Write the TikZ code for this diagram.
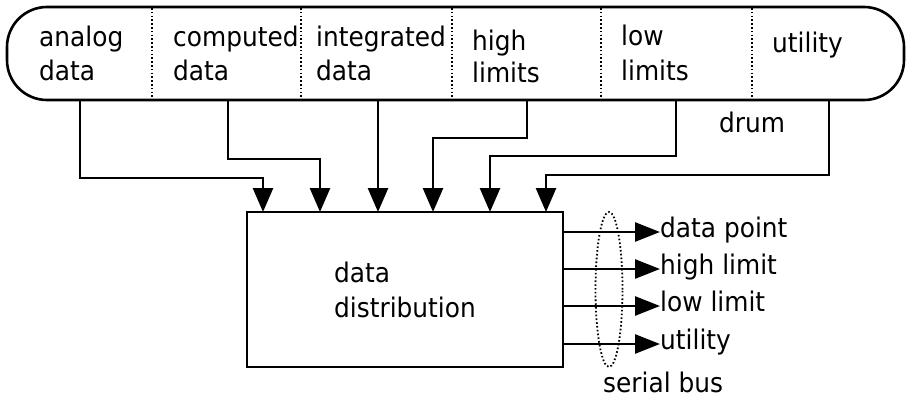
\documentclass[tikz,border=0pt]{standalone}
\usepackage{fontspec}
\setmainfont{DejaVu Sans}[FakeStretch=0.92]
\usetikzlibrary{arrows.meta,shapes.geometric}
\begin{document}
\begin{tikzpicture}[x=1pt,y=-1pt,
  every node/.style={font=\fontsize{27}{35}\selectfont},
  lbl/.style={anchor=base west,inner sep=0pt},
  divider/.style={line width=1.8pt,dash pattern=on 1.6pt off 2.2pt},
  flow/.style={line width=2.6pt,-{Triangle[length=24pt,width=20pt]}},
  outflow/.style={line width=2.6pt,-{Triangle[length=25pt,width=19pt]}}]
\useasboundingbox (0,0) rectangle (908,399);
\fill[white] (0,0) rectangle (908,399);

% drum with its six sections
\node (drum) [draw,line width=2.6pt,rounded corners=40pt,minimum width=897pt,
  minimum height=93pt,inner sep=0pt] at (455.5,53.5) {};
\foreach \x in {152,301,452,601,752}
  \draw[divider] (\x,8) -- (\x,99);

\node[lbl] (a1) at (39,46) {analog};
\node[lbl] (a2) at (39,80) {data};
\node[lbl] (b1) at (173,46) {computed};
\node[lbl] (b2) at (173,80) {data};
\node[lbl] (c1) at (316,46) {integrated};
\node[lbl] (c2) at (316,80) {data};
\node[lbl] (d1) at (472,50) {high};
\node[lbl] (d2) at (472,82) {limits};
\node[lbl] (e1) at (621,45) {low};
\node[lbl] (e2) at (621,80) {limits};
\node[lbl] (f1) at (772,52) {utility};
\node[lbl] (drumlbl) at (719,132) {drum};

% distribution block
\node (dd) [draw,line width=2.8pt,minimum width=316pt,minimum height=155pt,
  align=left] at (405,289.5) {data\\distribution};

% taps on the drum and inputs on the block
\coordinate (s1) at (80,100);  \coordinate (t1) at (263,212);
\coordinate (s2) at (228,100); \coordinate (t2) at (320,212);
\coordinate (s3) at (378,100); \coordinate (t3) at (378,212);
\coordinate (s4) at (527,100); \coordinate (t4) at (433,212);
\coordinate (s5) at (676,100); \coordinate (t5) at (490,212);
\coordinate (s6) at (829,100); \coordinate (t6) at (546,212);

\draw[flow] (s1) -- (s1 |- 0,178) -| (t1);
\draw[flow] (s2) -- (s2 |- 0,159) -| (t2);
\draw[flow] (s3) -- (t3);
\draw[flow] (s4) -- (s4 |- 0,138) -| (t4);
\draw[flow] (s5) -- (s5 |- 0,156) -| (t5);
\draw[flow] (s6) -- (s6 |- 0,175) -| (t6);

% serial outputs
\node[lbl] (o1) at (660,237) {data point};
\node[lbl] (o2) at (660,274) {high limit};
\node[lbl] (o3) at (660,311) {low limit};
\node[lbl] (o4) at (660,349) {utility};
\coordinate (y1) at (0,232);
\coordinate (y2) at (0,269);
\coordinate (y3) at (0,306);
\coordinate (y4) at (0,344);
\foreach \i in {1,2,3,4}
  \draw[outflow] (dd.east |- y\i) -- (o\i.west |- y\i);

\node (bus) [draw,ellipse,divider,minimum width=27pt,minimum height=155pt,
  inner sep=0pt] at (609,289.5) {};
\node[lbl] (buslbl) at (603,392) {serial bus};
\end{tikzpicture}
\end{document}
